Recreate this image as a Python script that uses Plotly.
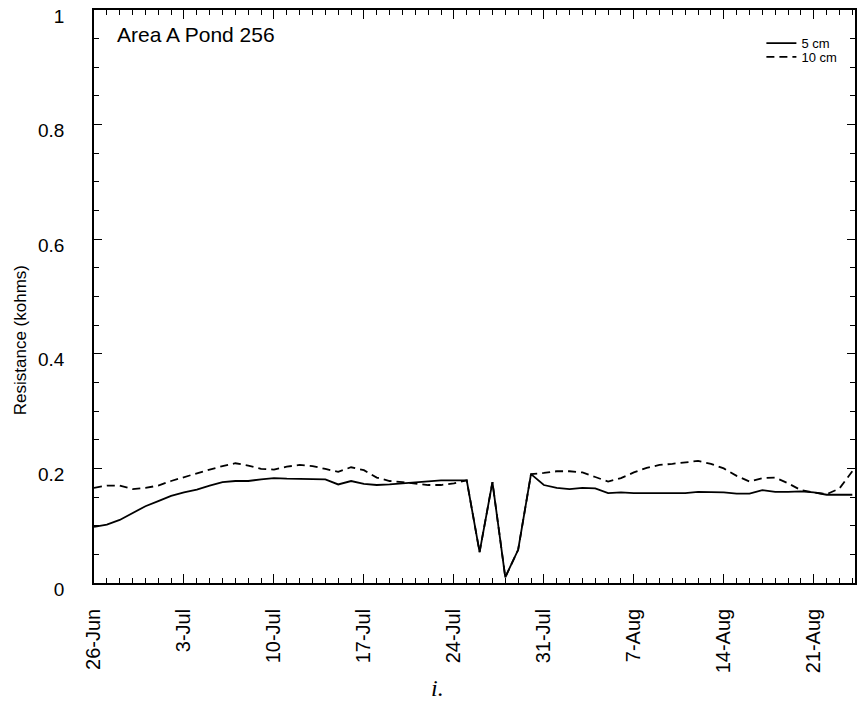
import pandas as pd
import plotly.graph_objects as go

start_date = "1994-06-26"
n_days = 60
dates = pd.date_range(start_date, periods=n_days, freq="D")

res_5cm = [0.098, 0.102, 0.110, 0.122, 0.134, 0.143, 0.152, 0.158, 0.163, 0.170,
           0.176, 0.178, 0.178, 0.181, 0.183, 0.182, 0.182, 0.182, 0.181, 0.172,
           0.178, 0.173, 0.171, 0.172, 0.174, 0.176, 0.178, 0.179, 0.179, 0.179,
           0.054, 0.176, 0.010, 0.058, 0.190, 0.171, 0.166, 0.164, 0.166, 0.165,
           0.157, 0.158, 0.157, 0.157, 0.156, 0.156, 0.157, 0.159, 0.159, 0.158,
           0.156, 0.156, 0.162, 0.159, 0.159, 0.160, 0.158, 0.154, 0.154, 0.154]

res_10cm = [0.166, 0.170, 0.170, 0.164, 0.166, 0.170, 0.178, 0.185, 0.192, 0.198,
            0.204, 0.209, 0.205, 0.199, 0.198, 0.203, 0.206, 0.204, 0.199, 0.194,
            0.202, 0.197, 0.184, 0.178, 0.176, 0.174, 0.171, 0.171, 0.174, 0.179,
            0.054, 0.176, 0.010, 0.058, 0.190, 0.192, 0.195, 0.195, 0.193, 0.185,
            0.177, 0.183, 0.193, 0.201, 0.206, 0.208, 0.210, 0.213, 0.208, 0.200,
            0.187, 0.177, 0.183, 0.184, 0.174, 0.162, 0.158, 0.155, 0.165, 0.195]

tick_dates = pd.date_range(start_date, periods=9, freq="7D")
tick_labels = ["26-Jun", "3-Jul", "10-Jul", "17-Jul", "24-Jul", "31-Jul", "7-Aug", "14-Aug", "21-Aug"]
y_ticks = [0, 0.2, 0.4, 0.6, 0.8, 1]
y_labels = ["0", "0.2", "0.4", "0.6", "0.8", "1"]

FONT = "Liberation Sans, Arial, sans-serif"

fig = go.Figure()
fig.add_trace(go.Scatter(x=dates, y=res_10cm, mode="lines", name="10 cm", legend="legend2",
                         line=dict(color="black", width=1.8, dash="8px,5px")))
fig.add_trace(go.Scatter(x=dates, y=res_5cm, mode="lines", name="5 cm", legend="legend",
                         line=dict(color="black", width=1.8)))

legend_common = dict(xanchor="left", yanchor="middle", font=dict(size=13, family=FONT),
                     bgcolor="rgba(0,0,0,0)", itemwidth=30, borderwidth=0)

fig.update_layout(
    width=857, height=718,
    margin=dict(l=94, r=2, t=10, b=135),
    paper_bgcolor="white", plot_bgcolor="white",
    font=dict(family=FONT, color="black", size=14),
    showlegend=True,
    legend=dict(x=0.877, y=0.942, **legend_common),
    legend2=dict(x=0.877, y=0.918, **legend_common),
    xaxis=dict(
        type="date", automargin=False,
        range=["1994-06-26 00:00", "1994-08-24 05:00"],
        tickmode="array", tickvals=tick_dates, ticktext=tick_labels,
        tickangle=-90, ticks="inside", ticklen=9, tickwidth=1.3, tickcolor="black",
        ticklabelstandoff=16, ticklabeloverflow="allow",
        showline=True, linecolor="black", linewidth=1.6, mirror="ticks",
        showgrid=False, zeroline=False,
        tickfont=dict(size=20, family=FONT),
        minor=dict(dtick=86400000, ticks="inside", ticklen=5, tickwidth=1.2,
                   tickcolor="black", showgrid=False),
    ),
    yaxis=dict(
        range=[0, 1], automargin=False,
        tickmode="array", tickvals=y_ticks, ticktext=y_labels,
        ticks="inside", ticklen=8, tickwidth=1.3, tickcolor="black",
        ticklabelstandoff=24, ticklabelshift=6, ticklabeloverflow="allow",
        showline=True, linecolor="black", linewidth=1.6, mirror="ticks",
        showgrid=False, zeroline=False,
        tickfont=dict(size=19, family=FONT),
        minor=dict(dtick=0.05, ticks="inside", ticklen=5, tickwidth=1.2,
                   tickcolor="black", showgrid=False),
    ),
    annotations=[
        dict(text="Area A Pond 256", xref="paper", yref="paper", x=0.0276, y=0.958,
             xanchor="left", yanchor="middle", showarrow=False,
             font=dict(size=21, family=FONT)),
        dict(text="Resistance (kohms)", xref="paper", yref="paper", x=-0.097, y=0.424,
             xanchor="center", yanchor="middle", textangle=-90, showarrow=False,
             font=dict(size=17, family=FONT)),
        dict(text="<i>i.</i>", xref="paper", yref="paper", x=0.452, y=-0.184,
             xanchor="center", yanchor="middle", showarrow=False,
             font=dict(size=24, family="Liberation Serif, Times New Roman, serif")),
    ],
)

# remove the default 8px page margin so the figure fills the window exactly
fig.write_html("out.html", config={"displayModeBar": False},
               post_script="document.body.style.margin='0px';")
